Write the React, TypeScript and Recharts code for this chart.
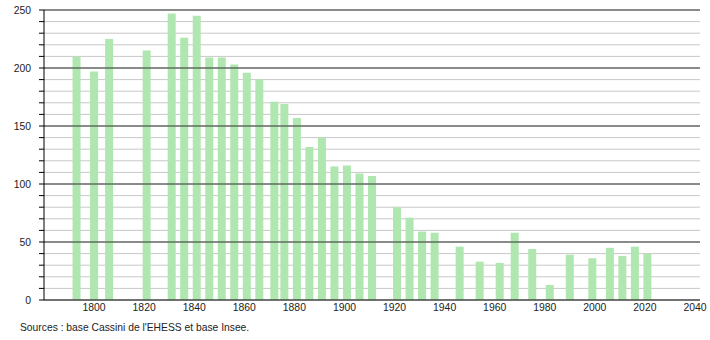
import { BarChart, Bar, CartesianGrid, XAxis, YAxis, ReferenceLine } from 'recharts';

const years = [1793, 1800, 1806, 1821, 1831, 1836, 1841, 1846, 1851, 1856, 1861, 1866, 1872, 1876, 1881, 1886, 1891, 1896, 1901, 1906, 1911, 1921, 1926, 1931, 1936, 1946, 1954, 1962, 1968, 1975, 1982, 1990, 1999, 2006, 2011, 2016, 2021];
const population = [210, 197, 225, 215, 247, 226, 245, 209, 209, 203, 196, 190, 171, 169, 157, 132, 140, 115, 116, 109, 107, 80, 71, 59, 58, 46, 33, 32, 58, 44, 13, 39, 36, 45, 38, 46, 40];

const xTicks = [1800, 1820, 1840, 1860, 1880, 1900, 1920, 1940, 1960, 1980, 2000, 2020, 2040];
const yTicks = [0, 10, 20, 30, 40, 50, 60, 70, 80, 90, 100, 110, 120, 130, 140, 150, 160, 170, 180, 190, 200, 210, 220, 230, 240, 250];
const majorLines = [50, 100, 150, 200, 250];

const data = years.map((year, i) => ({ year, value: population[i] }));

const font = { fontSize: 10.4, fill: '#222', fontFamily: '"Liberation Sans", Arial, sans-serif' };

const App = () => {
    return (
        <div style={{ position: 'absolute', left: 0, top: 0, width: 710, height: 340, background: '#fff' }}>
            <BarChart
                width={710}
                height={340}
                data={data}
                margin={{ top: 10, right: 10, left: 0, bottom: 20 }}
            >
                <CartesianGrid vertical={false} stroke='#c8c8c8' />
                {majorLines.map(v => (
                    <ReferenceLine key={v} y={v} stroke='#333' strokeWidth={1} />
                ))}
                <XAxis
                    dataKey='year'
                    type='number'
                    domain={[1780, 2042]}
                    ticks={xTicks}
                    height={20}
                    tickLine={false}
                    tickSize={0}
                    tickMargin={4}
                    axisLine={{ stroke: '#000' }}
                    tick={font}
                    allowDataOverflow
                />
                <YAxis
                    type='number'
                    domain={[0, 250]}
                    ticks={yTicks}
                    width={44}
                    interval={0}
                    tickSize={5}
                    tickMargin={8}
                    tickLine={{ stroke: '#000' }}
                    axisLine={{ stroke: '#000' }}
                    tick={font}
                    tickFormatter={(v: number) => (v % 50 === 0 ? String(v) : '')}
                />
                <Bar dataKey='value' fill='#b0e6b0' barSize={8} isAnimationActive={false} />
            </BarChart>
            <div style={{ position: 'absolute', left: 20, top: 322, fontSize: 10.3, color: '#222', fontFamily: '"Liberation Sans", Arial, sans-serif' }}>
                Sources : base Cassini de l'EHESS et base Insee.
            </div>
        </div>
    );
};

export default App;
